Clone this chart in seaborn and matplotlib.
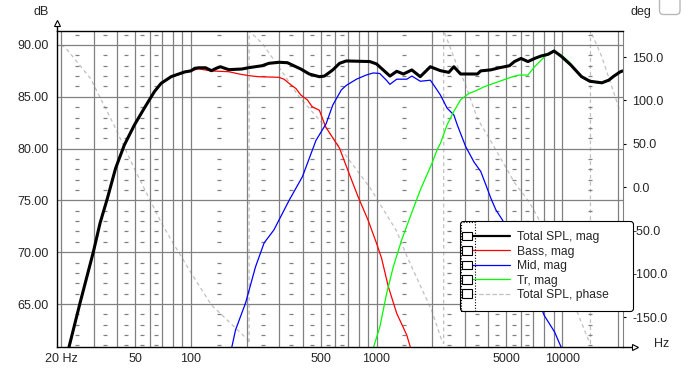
import numpy as np
import matplotlib.pyplot as plt
import seaborn as sns
from matplotlib.lines import Line2D
from matplotlib.legend_handler import HandlerBase
from matplotlib.patches import FancyBboxPatch, Rectangle
from matplotlib.ticker import NullLocator
from matplotlib.transforms import IdentityTransform

# --- data (Hz, dB / deg) ---
total_f = [21.6, 25.2, 29.8, 32.4, 35.5, 39.3, 43.8, 49.7, 56.1, 63.6,
           69.1, 78.4, 92.6, 100, 105, 110, 120, 129, 137, 144,
           160, 188, 205, 242, 263, 298, 331, 368, 391, 434,
           492, 524, 581, 632, 687, 920, 1000, 1181, 1284, 1395,
           1549, 1719, 1948, 2208, 2450, 2610, 2835, 3494, 3640, 4130,
           4580, 5200, 5530, 6000, 6540, 7100, 7710, 8400, 9040, 9900,
           11130, 12700, 14100, 16350, 17800, 19000, 20500, 21200]
total_db = [60.2, 65.0, 70.0, 72.8, 75.2, 78.1, 80.35, 82.3, 83.9, 85.5,
            86.3, 86.95, 87.4, 87.5, 87.75, 87.8, 87.8, 87.52, 87.75, 87.9,
            87.62, 87.68, 87.81, 88.0, 88.23, 88.33, 88.29, 87.9, 87.68, 87.2,
            86.94, 87.0, 87.59, 88.23, 88.46, 88.4, 88.17, 87.0, 87.46, 87.2,
            87.59, 86.94, 87.9, 87.52, 87.36, 87.9, 87.2, 87.2, 87.5, 87.6,
            87.8, 88.0, 88.4, 88.7, 88.4, 88.7, 88.94, 89.1, 89.42, 88.9,
            88.07, 86.95, 86.5, 86.35, 86.6, 87.0, 87.4, 87.5]

bass_f = [21.6, 25.2, 29.8, 32.4, 35.5, 39.3, 43.8, 49.7, 56.1, 63.6,
          69.1, 78.4, 92.6, 100, 110, 128, 160, 182, 205, 231,
          298, 318, 346, 368, 391, 424, 450, 492, 532, 632,
          701, 795, 900, 1000, 1065, 1156, 1284, 1455, 1540]
bass_db = [60.2, 65.0, 70.0, 72.8, 75.2, 78.1, 80.35, 82.3, 83.9, 85.5,
           86.3, 86.9, 87.35, 87.5, 87.7, 87.5, 87.42, 87.2, 87.04, 86.94,
           86.88, 86.69, 86.14, 85.8, 85.17, 84.7, 84.04, 83.7, 82.1, 80.03,
           77.9, 75.36, 73.1, 70.86, 69.4, 66.7, 64.1, 62.0, 60.5]

mid_f = [165, 174, 197, 223, 248, 280, 338, 399, 472, 535,
         581, 646, 687, 780, 880, 960, 1040, 1130, 1180, 1285,
         1455, 1550, 1720, 1950, 2120, 2208, 2400, 2610, 2720, 3020,
         3350, 3640, 3880, 4130, 4390, 4770, 5700, 6800, 8000, 9100,
         10000]
mid_db = [60.6, 62.5, 65.1, 68.6, 70.9, 72.15, 75.0, 77.3, 80.8, 82.4,
          84.2, 85.66, 86.1, 86.7, 87.1, 87.3, 87.25, 86.6, 86.2, 86.7,
          86.7, 87.0, 86.5, 86.6, 85.65, 85.17, 83.9, 83.24, 82.3, 80.2,
          78.7, 77.8, 76.5, 75.2, 74.1, 73.1, 70.0, 67.1, 63.9, 62.3,
          60.6]

tr_f = [955, 1042, 1133, 1231, 1367, 1517, 1720, 1991, 2120, 2208,
        2400, 2610, 2835, 3150, 3350, 3800, 4130, 4770, 5410, 5880,
        6540, 7100, 7710, 8400, 8920, 9900, 11000, 12700, 14100, 16350,
        17800, 19000, 20500, 21200]
tr_db = [60.6, 62.8, 66.0, 68.6, 71.2, 73.4, 76.0, 78.6, 79.9, 80.5,
         82.3, 83.6, 84.7, 85.34, 85.5, 85.97, 86.2, 86.6, 86.94, 87.1,
         87.1, 87.9, 88.55, 89.2, 89.42, 89.03, 88.3, 86.9, 86.45, 86.3,
         86.55, 86.95, 87.35, 87.45]

phase_f = [20, 21.1, 28.8, 38.6, 49.7, 69.2, 78.4, 100.6, 129, 203,
           206, 206, 242, 298, 383, 513, 716, 920, 1020, 1284,
           1456, 1991, 2256, 2300, 2300, 2350, 2665, 3019, 3495, 3962,
           4679, 5526, 6668, 7405, 10000, 12420, 13850, 14200, 14200, 15070,
           16350, 20400]
phase_deg = [164, 160.8, 125.3, 71.2, 21, -40.8, -60.9, -99.3, -135.8, -176,
             -180, 180, 165.9, 138.4, 104, 73.2, 30.6, -0.3, -16, -50.7,
             -79.4, -143.2, -178, -180, 180, 175.5, 144.6, 117.6, 79, 59.6,
             32.6, 5.5, -17.7, -35, -100, -151, -176, -180, 180, 167.7,
             150.3, 88.6]

grid_f = [20, 30, 40, 50, 60, 70, 80, 90,
          100, 200, 300, 400, 500, 600, 700, 800, 900,
          1000, 2000, 3000, 4000, 5000, 6000, 7000, 8000, 9000,
          10000, 20000]
label_f = {20: '20 Hz', 50: '50', 100: '100', 500: '500',
           1000: '1000', 5000: '5000', 10000: '10000'}
db_ticks = [65, 70, 75, 80, 85, 90]
deg_ticks = [-150, -100, -50, 0, 50, 100, 150]

legend_names = ['Total SPL, mag', 'Bass, mag', 'Mid, mag', 'Tr, mag', 'Total SPL, phase']

sns.set_style('white')
plt.rcParams['font.family'] = ['Liberation Sans', 'DejaVu Sans']
FS = 9
GRID = '#808080'
PHASE = '#c0c0c0'
DASH = (0, (3, 2.5))


class CheckLineHandler(HandlerBase):
    # checkbox square on the left, then the series line
    def create_artists(self, legend, orig_handle, xdescent, ydescent,
                       width, height, fontsize, trans):
        x0 = -xdescent
        yc = -ydescent + height / 2
        sq = Rectangle((x0 - 5.6, yc - 3.1), 7.2, 6.2, fc='white', ec='black',
                       lw=0.8, transform=trans)
        ln = Line2D([x0 + 1.6, x0 + width], [yc, yc], color=orig_handle.get_color(),
                    lw=orig_handle.get_linewidth(), linestyle=orig_handle.get_linestyle(),
                    transform=trans)
        return [ln, sq]


W, H = 685, 371
fig = plt.figure(figsize=(W / 100, H / 100), dpi=100)
L, R, T, B = 57, 623, 31, 347
ax = fig.add_axes([L / W, (H - B) / H, (R - L) / W, (B - T) / H])
ax2 = ax.twinx()
ax.set_zorder(ax2.get_zorder() + 1)
ax.patch.set_visible(False)

for a in (ax, ax2):
    a.set_xscale('log')
    a.set_xlim(19.0, 21260)
ax.set_ylim(60.85, 91.35)
ax2.set_ylim(-184.2, 180)

# phase on the back axis
sns.lineplot(x=phase_f, y=phase_deg, ax=ax2, color=PHASE, lw=0.9,
             sort=False, estimator=None, legend=False, linestyle=DASH)

# grid
ax.set_xticks(grid_f)
ax.set_xticklabels([label_f.get(f, '') for f in grid_f])
ax.xaxis.set_minor_locator(NullLocator())
ax.set_yticks(db_ticks)
ax.set_yticklabels([f'{v:.2f}' for v in db_ticks])
ax.grid(True, color=GRID, lw=0.9)
ax.set_axisbelow(True)

# dotted minor rows: short dashes between the vertical grid lines, every 1 dB
mids = np.sqrt(np.array(grid_f[:-1]) * np.array(grid_f[1:]))
mids = mids[np.diff(np.log10(grid_f)) > 0.06]
for v in range(61, 92):
    if v % 5:
        ax.plot(mids, [v] * len(mids), ls='none', marker='_', ms=3, mew=0.9,
                color=GRID, zorder=0.5)

sns.lineplot(x=bass_f, y=bass_db, ax=ax, color='#ff0000', lw=0.9,
             sort=False, estimator=None, legend=False)
sns.lineplot(x=mid_f, y=mid_db, ax=ax, color='#0000ff', lw=0.9,
             sort=False, estimator=None, legend=False)
sns.lineplot(x=tr_f, y=tr_db, ax=ax, color='#00ff00', lw=0.9,
             sort=False, estimator=None, legend=False)
sns.lineplot(x=total_f, y=total_db, ax=ax, color='black', lw=2.2,
             sort=False, estimator=None, legend=False)

ax.set_xlabel('')
ax.set_ylabel('')
ax2.set_ylabel('')
ax.tick_params(axis='x', length=0, pad=4, labelsize=FS)
ax.tick_params(axis='y', length=0, pad=6, labelsize=FS)
ax2.set_yticks(deg_ticks)
ax2.set_yticklabels([f'{v:.1f}' for v in deg_ticks])
ax2.tick_params(axis='y', length=2.5, width=0.8, color='black', pad=4, labelsize=FS)
ax2.xaxis.set_minor_locator(NullLocator())
ax2.yaxis.set_minor_locator(NullLocator())

for s in ('left', 'bottom', 'top'):
    ax.spines[s].set_color('black')
    ax.spines[s].set_linewidth(1.0)
ax.spines['right'].set_color(GRID)
for s in ax2.spines.values():
    s.set_visible(False)

# legend with check boxes
handles = [Line2D([], [], color='black', lw=1.6),
           Line2D([], [], color='#ff0000', lw=0.9),
           Line2D([], [], color='#0000ff', lw=0.9),
           Line2D([], [], color='#00ff00', lw=0.9),
           Line2D([], [], color=PHASE, lw=0.9, ls=DASH)]
lx0 = (460 - L) / (R - L)
lx1 = (633 - L) / (R - L)
ly1 = (B - 221) / (B - T)
leg = ax.legend(handles, legend_names, handler_map={Line2D: CheckLineHandler()},
                loc='upper left', bbox_to_anchor=(lx0, 0, lx1 - lx0, ly1), mode='expand',
                borderaxespad=0, fontsize=8.7, handlelength=3.3, handletextpad=0.55,
                labelspacing=0.2, borderpad=0.85, frameon=True, fancybox=True,
                framealpha=1, edgecolor='black')
leg.get_frame().set_linewidth(0.8)
leg.get_frame().set_boxstyle('round', pad=0, rounding_size=0.25)


def fx(px):
    return px / W


def fy(py):
    return 1 - py / H


# axis arrows and extra decoration
fig.add_artist(Line2D([fx(L), fx(L)], [fy(T), fy(24)], color='black', lw=1.0,
                      transform=fig.transFigure))
fig.add_artist(Line2D([fx(L)], [fy(23)], marker='^', ms=5, mfc='white', mec='black',
                      mew=0.8, transform=fig.transFigure))
fig.add_artist(Line2D([fx(R), fx(634)], [fy(B), fy(B)], color='black', lw=1.0,
                      transform=fig.transFigure))
fig.add_artist(Line2D([fx(635)], [fy(B)], marker='>', ms=5, mfc='white', mec='black',
                      mew=0.8, transform=fig.transFigure))
fig.add_artist(Rectangle((460.5, H - 310.5), 14, 89, fill=False,
                         ls=(0, (1, 1.5)), lw=0.8, ec='black', transform=IdentityTransform(),
                         zorder=10))
fig.add_artist(FancyBboxPatch((659.5, H - 14.5), 20.5, 30,
                              boxstyle='round,pad=0,rounding_size=4',
                              fc='white', ec='#b8b8b8', lw=1.0, transform=IdentityTransform(),
                              zorder=10))

fig.text(fx(41), fy(12), 'dB', ha='center', va='center', fontsize=FS)
fig.text(fx(641), fy(12), 'deg', ha='center', va='center', fontsize=FS)
fig.text(fx(654), fy(344), 'Hz', ha='left', va='center', fontsize=FS)

fig.savefig('out.png', dpi=100)
